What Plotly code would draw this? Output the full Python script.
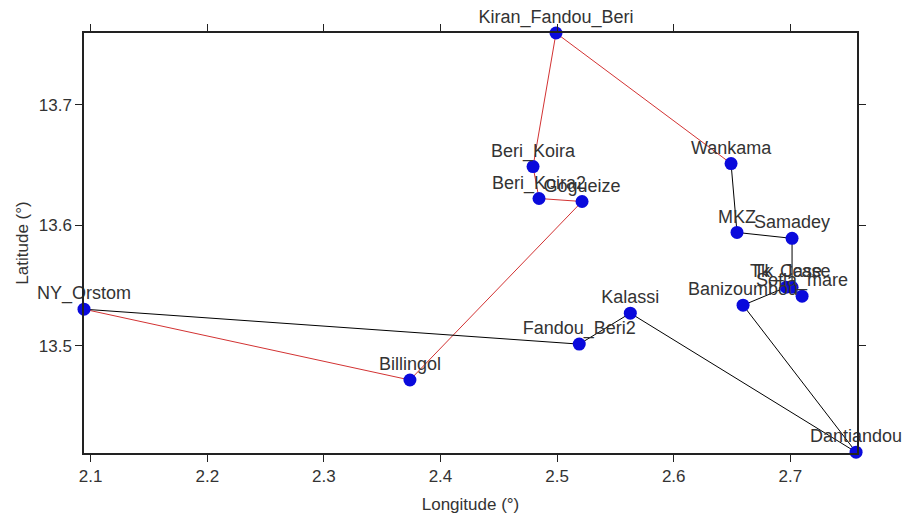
import plotly.graph_objects as go

# ---- data ----
sites = ["NY_Orstom", "Billingol", "Gogueize", "Beri_Koira2", "Beri_Koira",
         "Kiran_Fandou_Beri", "Wankama", "MKZ", "Samadey", "Tk_Case", "Tk_Jcase",
         "Sofia_mare", "Banizoumbou", "Dantiandou", "Kalassi", "Fandou_Beri2"]
lon = [2.0943, 2.3738, 2.5214, 2.4845, 2.4794,
       2.4991, 2.6492, 2.6543, 2.7015, 2.6964, 2.7015,
       2.7101, 2.6595, 2.7564, 2.5628, 2.5190]
lat = [13.5302, 13.4714, 13.6196, 13.6221, 13.6486,
       13.7595, 13.6511, 13.5939, 13.5890, 13.5484, 13.5484,
       13.5410, 13.5335, 13.4115, 13.5269, 13.5012]

red_route = ["NY_Orstom", "Billingol", "Gogueize", "Beri_Koira2", "Beri_Koira",
             "Kiran_Fandou_Beri", "Wankama"]
black_route = ["Wankama", "MKZ", "Samadey", "Tk_Jcase", "Sofia_mare", "Tk_Case",
               "Banizoumbou", "Dantiandou", "Kalassi", "Fandou_Beri2", "NY_Orstom"]

x_ticks = [2.1, 2.2, 2.3, 2.4, 2.5, 2.6, 2.7]
y_ticks = [13.5, 13.6, 13.7]

idx = {s: i for i, s in enumerate(sites)}
FONT = "Liberation Sans, Arial, sans-serif"
FS = 17

fig = go.Figure()

fig.add_trace(go.Scatter(
    x=[lon[idx[s]] for s in red_route], y=[lat[idx[s]] for s in red_route],
    mode="lines", line=dict(color="rgb(210,50,50)", width=1),
    hoverinfo="skip", showlegend=False, cliponaxis=False))
fig.add_trace(go.Scatter(
    x=[lon[idx[s]] for s in black_route], y=[lat[idx[s]] for s in black_route],
    mode="lines", line=dict(color="black", width=1),
    hoverinfo="skip", showlegend=False, cliponaxis=False))
fig.add_trace(go.Scatter(
    x=lon, y=lat, mode="markers",
    marker=dict(color="#0a0adc", size=13),
    showlegend=False, cliponaxis=False))
fig.add_trace(go.Scatter(
    x=lon, y=lat, text=sites, mode="markers+text",
    marker=dict(color="rgba(0,0,0,0)", size=7),
    textposition="top center",
    textfont=dict(family=FONT, size=18, color="#333333"),
    hoverinfo="skip", showlegend=False, cliponaxis=False))

axis_common = dict(
    showgrid=False, zeroline=False, showline=True, linecolor="#222222", linewidth=1.5,
    mirror="ticks", ticks="outside", ticklen=7, tickcolor="#222222", tickwidth=1.2,
    tickfont=dict(family=FONT, size=FS, color="#333333"), automargin=False,
)

fig.update_layout(
    width=903, height=517,
    margin=dict(l=84, r=46, t=33, b=64),
    paper_bgcolor="white", plot_bgcolor="white",
    font=dict(family=FONT, color="#333333"),
    xaxis=dict(range=[2.0943, 2.7572], tickvals=x_ticks,
               ticktext=[f"{v:.1f}" for v in x_ticks],
               title=dict(text="Longitude (°)", font=dict(size=FS, color="#333333"), standoff=13),
               **axis_common),
    yaxis=dict(range=[13.4108, 13.7595], tickvals=y_ticks,
               ticktext=[f"{v:.1f}" for v in y_ticks],
               title=dict(text="Latitude (°)", font=dict(size=FS, color="#333333"), standoff=6),
               **axis_common),
)

fig.write_html("out.html")
